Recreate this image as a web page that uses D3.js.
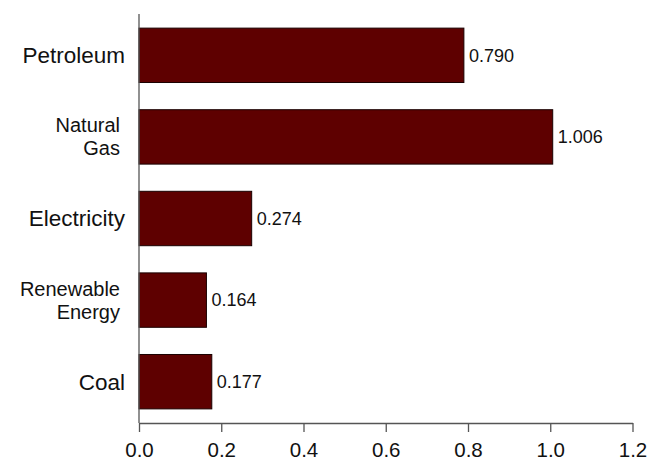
<!DOCTYPE html>
<html>
<head>
<meta charset="utf-8">
<script src="https://cdn.jsdelivr.net/npm/d3@7/dist/d3.min.js"></script>
<style>
  html, body { margin: 0; padding: 0; background: #fff; }
  svg { display: block; font-family: "Liberation Sans", Arial, sans-serif; }
</style>
</head>
<body>
<svg id="chart" width="663" height="462"></svg>
<script>
const categories = ["Petroleum", "Natural Gas", "Electricity", "Renewable Energy", "Coal"];
const categoryLines = [["Petroleum"], ["Natural", "Gas"], ["Electricity"], ["Renewable", "Energy"], ["Coal"]];
const values = [0.790, 1.006, 0.274, 0.164, 0.177];
const valueLabels = ["0.790", "1.006", "0.274", "0.164", "0.177"];
const xTicks = [0.0, 0.2, 0.4, 0.6, 0.8, 1.0, 1.2];

const svg = d3.select("#chart");
const plotLeft = 139, plotRight = 632.5, plotTop = 14, plotBottom = 423;

const x = d3.scaleLinear().domain([0, 1.2]).range([plotLeft, plotRight]);
const y = d3.scaleBand().domain(categories).range([plotTop, plotBottom])
  .paddingInner(1 / 3).paddingOuter(0.173);

// bars
svg.append("g").selectAll("rect")
  .data(values)
  .join("rect")
  .attr("x", x(0))
  .attr("y", (d, i) => y(categories[i]))
  .attr("width", d => x(d) - x(0))
  .attr("height", y.bandwidth())
  .attr("fill", "#5e0000")
  .attr("stroke", "#1a0000")
  .attr("stroke-width", 1);

// value labels
svg.append("g").selectAll("text")
  .data(values)
  .join("text")
  .attr("x", d => x(d) + 5)
  .attr("y", (d, i) => y(categories[i]) + y.bandwidth() / 2)
  .attr("dy", "0.35em")
  .attr("font-size", 18)
  .attr("fill", "#111")
  .text((d, i) => valueLabels[i]);

// category labels
const catG = svg.append("g");
categories.forEach((c, i) => {
  const lines = categoryLines[i];
  const cy = y(c) + y.bandwidth() / 2;
  if (lines.length === 1) {
    catG.append("text")
      .attr("x", 125)
      .attr("y", cy)
      .attr("dy", "0.35em")
      .attr("text-anchor", "end")
      .attr("font-size", 22.5)
      .attr("fill", "#111")
      .text(lines[0]);
  } else {
    lines.forEach((l, j) => {
      catG.append("text")
        .attr("x", 120)
        .attr("y", cy + (j - (lines.length - 1) / 2) * 23)
        .attr("dy", "0.35em")
        .attr("text-anchor", "end")
        .attr("font-size", 20)
        .attr("fill", "#111")
        .text(l);
    });
  }
});

// left axis line
svg.append("line")
  .attr("x1", plotLeft).attr("x2", plotLeft)
  .attr("y1", plotTop).attr("y2", plotBottom)
  .attr("stroke", "#555").attr("stroke-width", 1.3);

// bottom axis
const xAxis = d3.axisBottom(x)
  .tickValues(xTicks)
  .tickFormat(d3.format(".1f"))
  .tickSize(9)
  .tickSizeOuter(0)
  .tickPadding(10);

const ax = svg.append("g")
  .attr("transform", `translate(0,${plotBottom})`)
  .call(xAxis);
ax.select(".domain").attr("stroke", "#555").attr("stroke-width", 1.3);
ax.selectAll(".tick line").attr("stroke", "#555").attr("stroke-width", 1.3);
ax.selectAll(".tick text")
  .attr("font-size", 20.5)
  .attr("font-family", "Liberation Sans, Arial, sans-serif")
  .attr("fill", "#111");
</script>
</body>
</html>
